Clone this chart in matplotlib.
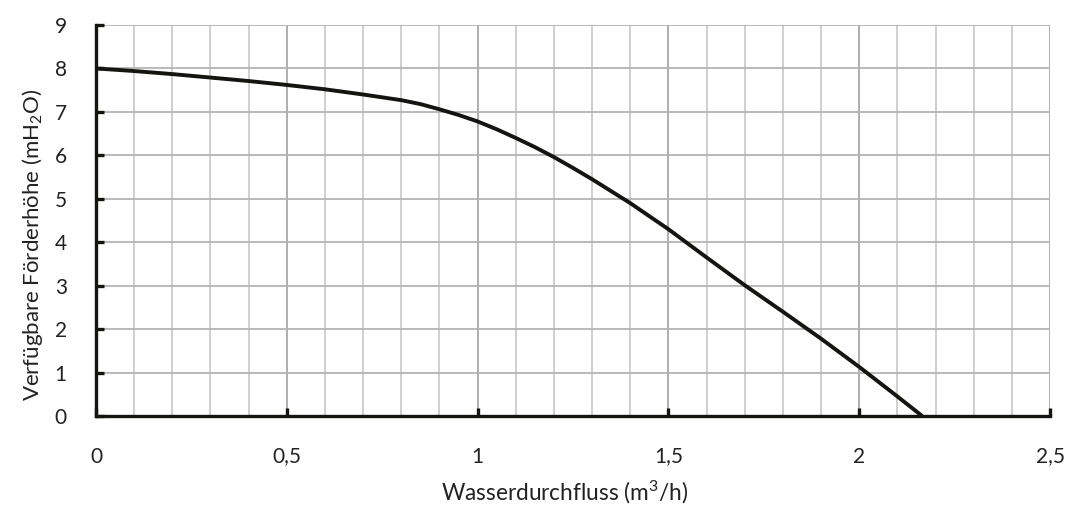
import matplotlib
matplotlib.use("Agg")
import matplotlib.pyplot as plt
import numpy as np

flow = [0.0, 0.1, 0.2, 0.3, 0.4, 0.5, 0.6, 0.7, 0.8, 0.85, 0.9, 0.95, 1.0,
        1.05, 1.1, 1.15, 1.2, 1.25, 1.3, 1.4, 1.5, 1.6, 1.7, 1.8, 1.9, 2.0,
        2.1, 2.165]
head = [8.0, 7.94, 7.87, 7.79, 7.71, 7.62, 7.52, 7.40, 7.27, 7.18, 7.06, 6.93,
        6.78, 6.60, 6.40, 6.19, 5.96, 5.71, 5.45, 4.90, 4.30, 3.65, 3.01, 2.40,
        1.78, 1.13, 0.45, 0.0]

x_ticks = [0, 0.5, 1, 1.5, 2, 2.5]
x_ticklabels = ["0", "0,5", "1", "1,5", "2", "2,5"]
y_ticks = list(range(0, 10))

plt.rcParams['font.family'] = ['Lato', 'DejaVu Sans']
plt.rcParams['mathtext.default'] = 'regular'

fig = plt.figure(figsize=(10.71, 5.07), dpi=100)
ax = fig.add_axes([0.0896, 0.1795, 0.8908, 0.7712])

ax.set_xlim(0, 2.5)
ax.set_ylim(0, 9)

# grid
for xv in np.arange(0.1, 2.51, 0.1):
    major = abs(xv * 2 - round(xv * 2)) < 1e-6
    ax.axvline(xv, color='#a8a8a8' if major else '#cccccc', lw=1.3, zorder=1)
for yv in y_ticks[1:]:
    ax.axhline(yv, color='#b4b4b4', lw=1.3, zorder=1)

ax.plot(flow, head, color='#141410', lw=2.8, zorder=3,
        solid_capstyle='butt', solid_joinstyle='round')

for s in ['top', 'right']:
    ax.spines[s].set_visible(False)
for s in ['left', 'bottom']:
    ax.spines[s].set_linewidth(2.4)
    ax.spines[s].set_color('#141410')
    ax.spines[s].set_zorder(4)

ax.set_xticks(x_ticks)
ax.set_xticklabels(x_ticklabels)
ax.set_yticks(y_ticks)
ax.tick_params(direction='in', length=5.5, width=2.4, color='#141410',
               labelsize=15, labelcolor='#222222')
ax.tick_params(axis='x', pad=22)
ax.tick_params(axis='y', pad=21)

ax.set_xlabel("Wasserdurchfluss (m$^3$/h)", fontsize=16.3, color='#222222')
ax.set_ylabel("Verfügbare Förderhöhe (mH$_2$O)", fontsize=16, color='#222222')
ax.xaxis.set_label_coords(0.4916, -0.162)
ax.yaxis.set_label_coords(-0.053, 0.437)

fig.savefig("out.png", dpi=100)
